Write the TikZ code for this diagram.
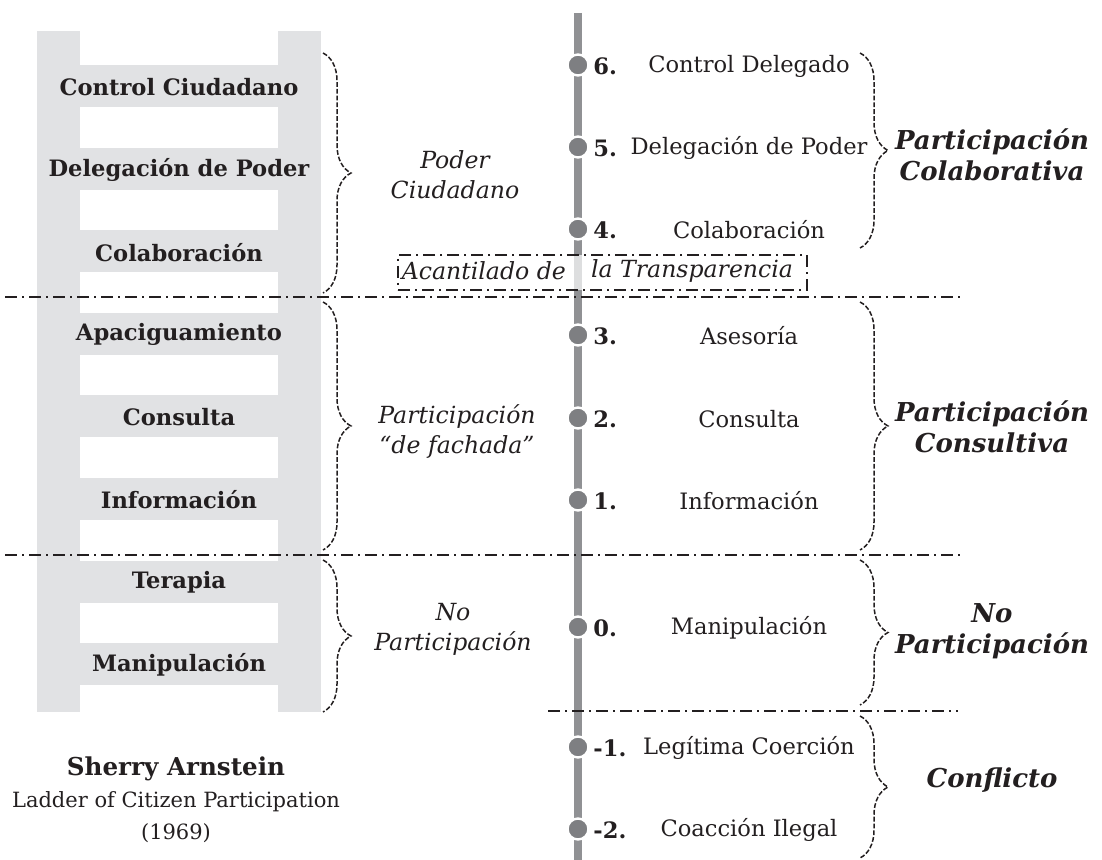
\documentclass[tikz,border=0pt]{standalone}
\usepackage{fontspec}
\setmainfont{DejaVu Serif}
\usetikzlibrary{decorations.pathreplacing,positioning}
\definecolor{ladgray}{HTML}{E1E2E4}
\definecolor{spinegray}{HTML}{909194}
\definecolor{dotgray}{HTML}{7E7F82}
\definecolor{ink}{HTML}{231F20}
\begin{document}
\begin{tikzpicture}[x=0.5pt,y=-0.5pt,
	rung/.style={font=\bfseries\fontsize{11.3}{13}\selectfont,text=ink},
	lvl/.style={font=\fontsize{11.3}{13}\selectfont,text=ink},
	num/.style={font=\bfseries\fontsize{11.3}{13}\selectfont,text=ink,anchor=west,inner xsep=0pt},
	mid/.style={font=\itshape\fontsize{11.8}{15}\selectfont,text=ink,align=center},
	grp/.style={font=\bfseries\itshape\fontsize{13}{15.5}\selectfont,text=ink,align=center},
	cut/.style={draw=ink,line width=0.7pt,dash pattern=on 6pt off 2.5pt on 1pt off 2.5pt},
	bracedash/.style={draw=ink,line width=0.75pt,dash pattern=on 2.4pt off 1pt,decorate,decoration={brace,amplitude=14pt}},
	pt/.style={circle,fill=dotgray,draw=white,line width=1.2pt,minimum size=10.5pt,inner sep=0pt}]
	\useasboundingbox (0,0) rectangle (1102,860);
	% ladder
	\fill[ladgray] (37,31) rectangle (80,712);
	\fill[ladgray] (278,31) rectangle (321,712);
	\foreach \i in {0,...,7}
		\fill[ladgray] (80,{65+82.6*\i}) rectangle (278,{107+82.6*\i});
	\foreach \lbl [count=\i from 0] in {Control Ciudadano,Delegación de Poder,Colaboración,Apaciguamiento,Consulta,Información,Terapia,Manipulación}
		\node[rung] (rung\i) at (179,{87+82.6*\i}) {\lbl};
	\node[align=center,text=ink,font=\fontsize{10.5}{16}\selectfont] (author) at (176,800)
		{{\bfseries\fontsize{12.3}{16}\selectfont Sherry Arnstein}\\Ladder of Citizen Participation\\(1969)};
	% spine
	\coordinate (top) at (578,13);
	\coordinate (bot) at (578,860);
	\draw[spinegray,line width=4pt] (top)--(bot);
	% cliff
	\node[cut,line width=0.55pt,fill=white,fill opacity=0.7,minimum width=204.5pt,minimum height=17.5pt,inner sep=0pt] (cliff) at (602.5,272.5) {};
	\node[mid,anchor=east] (cliffa) at (573,271) {Acantilado de};
	\node[mid,anchor=west] (cliffb) at (584,271) {la Transparencia};
	% levels
	\foreach \y/\n/\t [count=\k] in {65/6./Control Delegado,147/5./Delegación de Poder,229/4./Colaboración,335/3./Asesoría,418/2./Consulta,500/1./Información,627/0./Manipulación,747/-1./Legítima Coerción,829/-2./Coacción Ilegal}{
		\node[pt] (dot\k) at (578,\y) {};
		\node[num] (num\k) at (593,\y+1) {\n};
		\node[lvl] (lvl\k) at (749,\y+1) {\t};
	}
	% cuts
	\coordinate (c1a) at (5,297); \coordinate (c1b) at (960,297);
	\coordinate (c2a) at (5,555); \coordinate (c2b) at (960,555);
	\coordinate (c3a) at (548,711); \coordinate (c3b) at (958,711);
	\draw[cut] (c1a)--(c1b);
	\draw[cut] (c2a)--(c2b);
	\draw[cut] (c3a)--(c3b);
	% left braces
	\coordinate (lb1a) at (323,53); \coordinate (lb1b) at (323,293);
	\coordinate (lb2a) at (323,302); \coordinate (lb2b) at (323,550);
	\coordinate (lb3a) at (323,560); \coordinate (lb3b) at (323,712);
	\draw[bracedash] (lb1a)--(lb1b);
	\draw[bracedash] (lb2a)--(lb2b);
	\draw[bracedash] (lb3a)--(lb3b);
	\node[mid] (poder) at (455,175) {Poder\\Ciudadano};
	\node[mid] (fachada) at (457,432) {Participación\\“de fachada”};
	\node[mid] (nopart) at (453,629) {No\\Participación};
	% right braces
	\coordinate (rb1a) at (860,53); \coordinate (rb1b) at (860,248);
	\coordinate (rb2a) at (860,302); \coordinate (rb2b) at (860,550);
	\coordinate (rb3a) at (860,560); \coordinate (rb3b) at (860,705);
	\coordinate (rb4a) at (860,716); \coordinate (rb4b) at (860,858);
	\draw[bracedash] (rb1a)--(rb1b);
	\draw[bracedash] (rb2a)--(rb2b);
	\draw[bracedash] (rb3a)--(rb3b);
	\draw[bracedash] (rb4a)--(rb4b);
	\node[grp] (colab) at (992,155) {Participación\\Colaborativa};
	\node[grp] (consul) at (992,427) {Participación\\Consultiva};
	\node[grp] (nopartr) at (992,631) {No\\Participación};
	\node[grp] (confl) at (992,780) {Conflicto};
\end{tikzpicture}
\end{document}
